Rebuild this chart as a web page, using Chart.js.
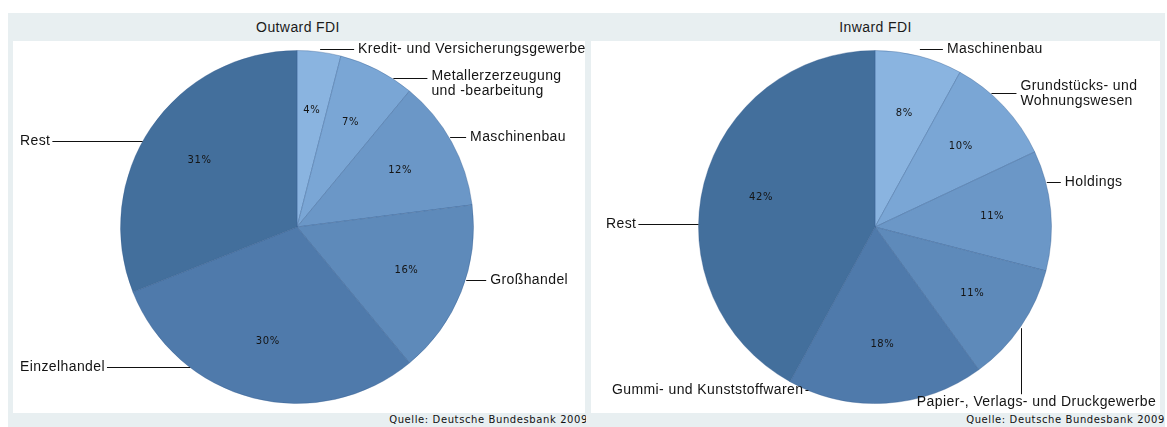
<!DOCTYPE html>
<html>
<head>
<meta charset="utf-8">
<script src="https://cdn.jsdelivr.net/npm/chart.js@4.4.0/dist/chart.umd.min.js"></script>
<style>
    body { margin: 0; width: 1167px; height: 427px; background: #fff; position: relative; overflow: hidden; font-family: "Liberation Sans", Arial, sans-serif; }
    .panel { position: absolute; top: 13px; height: 414px; background: #e8eff1; }
    .title { position: absolute; top: 0; left: 0; right: 0; height: 28px; line-height: 28px; text-align: center; font-size: 14px; letter-spacing: 0.4px; color: #1a1a1a; }
    .plot { position: absolute; top: 28px; height: 372px; background: #fff; }
    .source { position: absolute; bottom: 0; right: 0; height: 14px; line-height: 14px; font-family: "DejaVu Sans", sans-serif; font-size: 10px; letter-spacing: 0.6px; color: #111; white-space: nowrap; }
</style>
</head>
<body>
<div class="panel" id="outPanel" style="left:8px;width:580px;">
    <div class="title">Outward FDI</div>
    <div class="plot" style="left:5px;width:572px;"><canvas id="outwardChart" width="572" height="372"></canvas></div>
    <div class="source">Quelle: Deutsche Bundesbank 2009</div>
</div>
<div class="panel" id="inPanel" style="left:586px;width:579px;">
    <div class="title">Inward FDI</div>
    <div class="plot" style="left:5px;width:569px;"><canvas id="inwardChart" width="569" height="372"></canvas></div>
    <div class="source">Quelle: Deutsche Bundesbank 2009</div>
</div>
<script>
// 数据
const outwardLabels = ['Kredit- und Versicherungsgewerbe', ['Metallerzerzeugung', 'und -bearbeitung'], 'Maschinenbau', 'Großhandel', 'Einzelhandel', 'Rest'];
const outwardShares = [4, 7, 12, 16, 30, 31];
const inwardLabels = ['Maschinenbau', ['Grundstücks- und', 'Wohnungswesen'], 'Holdings', 'Papier-, Verlags- und Druckgewerbe', 'Gummi- und Kunststoffwaren', 'Rest'];
const inwardShares = [8, 10, 11, 11, 18, 42];

// 颜色: 从浅到深
const sliceColors = ['#8ab4e0', '#7aa6d5', '#6b97c7', '#5e8aba', '#4f7aab', '#436f9c'];

// 标注线布局
const outwardCallouts = [
    { side: 'right', dy: -3, len: 34 },
    { side: 'right', dy: 8, len: 34, ty: -2 },
    { side: 'right', dy: -5, len: 16 },
    { side: 'right', dy: -12, len: 20 },
    { side: 'left', dy: -31, tx: 7 },
    { side: 'left', dy: 13, tx: 7 }
];
const inwardCallouts = [
    { side: 'right', dy: -7, len: 23 },
    { side: 'right', dy: -13, len: 25, ty: -7 },
    { side: 'right', dy: -28, len: 14 },
    { side: 'below', len: 68, tx: 15 },
    { side: 'left', dy: -13, tx: 21 },
    { side: 'left', dy: 41, tx: 15 }
];

const calloutPlugin = {
    id: 'callouts',
    afterDatasetsDraw(chart, args, opts) {
        const ctx = chart.ctx;
        const arcs = chart.getDatasetMeta(0).data;
        const labels = chart.data.labels;
        const values = chart.data.datasets[0].data;
        ctx.save();
        arcs.forEach(function(arc, i) {
            const p = arc.getProps(['x', 'y', 'startAngle', 'endAngle', 'outerRadius'], true);
            const mid = (p.startAngle + p.endAngle) / 2;
            const r = p.outerRadius;

            // 百分比
            ctx.font = '10px "DejaVu Sans"';
            ctx.letterSpacing = '0.6px';
            ctx.fillStyle = '#141414';
            ctx.textAlign = 'center';
            ctx.textBaseline = 'middle';
            const pr = r * 0.667;
            ctx.fillText(values[i] + '%', p.x + Math.cos(mid) * pr, p.y + Math.sin(mid) * pr);

            // 外部标签
            const c = opts.layout[i];
            const lines = Array.isArray(labels[i]) ? labels[i] : [labels[i]];
            const ex = p.x + Math.cos(mid) * r;
            const ey = p.y + Math.sin(mid) * r;
            ctx.font = '14px "Liberation Sans"';
            ctx.letterSpacing = '0.4px';
            ctx.strokeStyle = '#111';
            ctx.lineWidth = 1;
            ctx.textBaseline = 'middle';

            if (c.side === 'below') {
                const lx = Math.round(ex) + 0.5;
                ctx.beginPath();
                ctx.moveTo(lx, ey + 2);
                ctx.lineTo(lx, ey + c.len);
                ctx.stroke();
                ctx.textAlign = 'center';
                ctx.fillText(lines[0], lx + c.tx, ey + c.len + 8);
                return;
            }

            const ly = Math.round(ey + c.dy) + 0.5;
            const dyc = ly - p.y;
            const half = Math.abs(dyc) < r ? Math.sqrt(r * r - dyc * dyc) : Math.abs(ex - p.x);
            const ty = c.ty || 0;

            if (c.side === 'right') {
                const sx = p.x + half + 1;
                ctx.beginPath();
                ctx.moveTo(sx, ly);
                ctx.lineTo(sx + c.len, ly);
                ctx.stroke();
                ctx.textAlign = 'left';
                lines.forEach(function(t, k) {
                    ctx.fillText(t, sx + c.len + 4, ly + ty + k * 15);
                });
            } else {
                ctx.textAlign = 'left';
                let w = 0;
                lines.forEach(function(t, k) {
                    ctx.fillText(t, c.tx, ly + ty + k * 15);
                    w = Math.max(w, ctx.measureText(t).width);
                });
                ctx.beginPath();
                ctx.moveTo(c.tx + w + 2, ly);
                ctx.lineTo(p.x - half, ly);
                ctx.stroke();
            }
        });
        ctx.restore();
    }
};

function makePie(id, labels, shares, layout, padRight) {
    return new Chart(document.getElementById(id), {
        type: 'pie',
        data: {
            labels: labels,
            datasets: [{
                data: shares,
                backgroundColor: sliceColors,
                borderColor: 'rgba(50, 90, 140, 0.35)',
                borderWidth: 1
            }]
        },
        options: {
            responsive: false,
            animation: false,
            layout: { padding: { left: 107, right: padRight, top: 9, bottom: 9 } },
            plugins: {
                legend: { display: false },
                tooltip: { enabled: false },
                callouts: { layout: layout }
            }
        },
        plugins: [calloutPlugin]
    });
}

makePie('outwardChart', outwardLabels, outwardShares, outwardCallouts, 111);
makePie('inwardChart', inwardLabels, inwardShares, inwardCallouts, 108);
</script>
</body>
</html>
